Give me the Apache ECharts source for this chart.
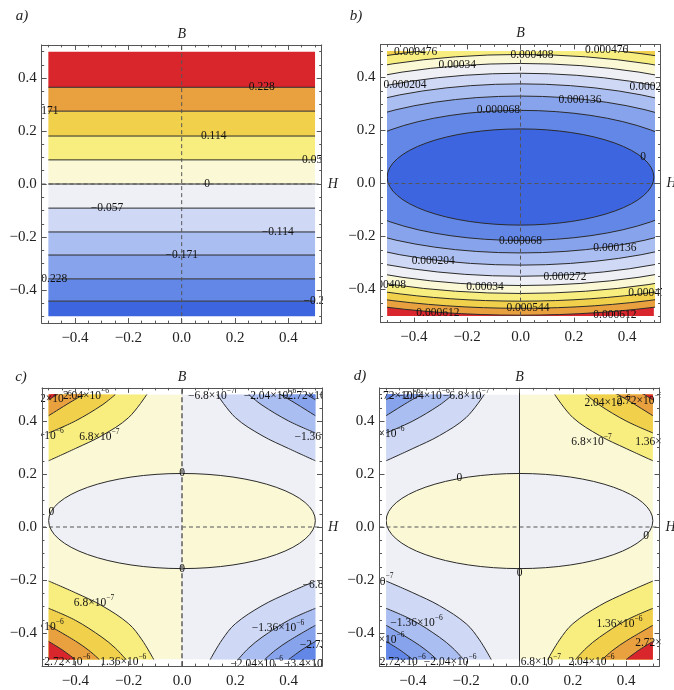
<!DOCTYPE html>
<html>
<head>
<meta charset="utf-8">
<script src="https://cdn.jsdelivr.net/npm/echarts@6/dist/echarts.min.js"></script>
<style>
html,body{margin:0;padding:0;background:#ffffff;}
#chart{width:674px;height:690px;}
</style>
</head>
<body>
<div id="chart"></div>
<script>
// ---------------- data ----------------
const majorTicks = [-0.4, -0.2, 0, 0.2, 0.4];
const minorTicks = [-0.5,-0.45,-0.35,-0.3,-0.25,-0.15,-0.1,-0.05,0.05,0.1,0.15,0.25,0.3,0.35,0.45,0.5];
const panelLetters = ['a)', 'b)', 'c)', 'd)'];
const axisNames = ['H', 'B'];

// contour band colours, lowest band to highest band
const bandColors = ['#3d65df','#6287e6','#87a3ec','#abbef1','#cfd8f5','#eff0f5',
                    '#fbf8d6','#f8ee80','#f1d14c','#e9a03e','#d9262c'];

// panel a : contour lines (B values), all horizontal
const aContourY = [-0.442, -0.358, -0.268, -0.181, -0.091, 0, 0.091, 0.181, 0.275, 0.365];
const aLabels = [
  ['0.228', 0.30, 0.365], ['0.171', -0.51, 0.275], ['0.114', 0.12, 0.181],
  ['0.057', 0.50, 0.091], ['0', 0.095, 0.0], ['−0.057', -0.28, -0.091],
  ['−0.114', 0.36, -0.181], ['−0.171', 0.0, -0.268], ['−0.228', -0.49, -0.358],
  ['−0.285', 0.517, -0.442]
];

// panel b : closed contours around a common centre (levels 0 ... 0.000612)
const bLevels = ['0','0.000068','0.000136','0.000204','0.000272','0.00034','0.000408','0.000476','0.000544','0.000612'];
const bCenterY = 0.024;
const bTopY    = [0.206, 0.276, 0.330, 0.376, 0.416, 0.453, 0.487, 0.519, 0.55, 0.58];
const bBottomY = [-0.157, -0.215, -0.262, -0.308, -0.35, -0.385, -0.415, -0.444, -0.471, -0.497];
const bHalfWidth = [0.5, 0.69, 0.84, 0.96, 1.07, 1.16, 1.25, 1.34, 1.42, 1.5];
const bLabels = [
  ['0.000476', -0.393, 0.497], ['0.000476', 0.323, 0.503], ['0.000408', 0.043, 0.485],
  ['0.00034', -0.237, 0.447], ['0.000204', -0.433, 0.37], ['0.000272', 0.49, 0.365],
  ['0.000136', 0.223, 0.315], ['0.000068', -0.083, 0.277], ['0', 0.46, 0.10],
  ['0.000068', 0.0, -0.217], ['0.000136', 0.354, -0.245], ['0.000204', -0.327, -0.292],
  ['0.000272', 0.167, -0.352], ['0.00034', -0.133, -0.389], ['0.000408', -0.51, -0.383],
  ['0.000476', 0.485, -0.414], ['0.000544', 0.028, -0.471], ['0.000612', -0.31, -0.49],
  ['0.000612', 0.354, -0.496]
];

// panels c and d : zero contour (ellipse + H = 0) and corner contours (|levels| 6.8e-7 ... 2.72e-6)
const ellipseCenterY = 0.024;
const ellipseTopY = 0.202;
const ellipseBottomY = -0.157;
const ellipseHalfWidth = 0.5;
const cornerTL = [
  [[-0.5,0.25],[-0.4,0.296],[-0.3,0.345],[-0.2,0.413],[-0.132,0.5]],
  [[-0.5,0.355],[-0.4,0.40],[-0.3,0.46],[-0.25,0.5]],
  [[-0.5,0.42],[-0.42,0.47],[-0.36,0.505]],
  [[-0.5,0.48],[-0.46,0.505]]
];
const cornerTR = [
  [[0.132,0.5],[0.2,0.413],[0.3,0.345],[0.4,0.296],[0.5,0.25]],
  [[0.25,0.5],[0.3,0.46],[0.4,0.40],[0.5,0.355]],
  [[0.36,0.505],[0.42,0.47],[0.5,0.42]],
  [[0.46,0.505],[0.5,0.48]]
];
const cornerBL = [
  [[-0.5,-0.204],[-0.4,-0.248],[-0.3,-0.297],[-0.2,-0.365],[-0.15,-0.426],[-0.106,-0.5]],
  [[-0.5,-0.307],[-0.4,-0.352],[-0.3,-0.416],[-0.25,-0.457],[-0.21,-0.5]],
  [[-0.5,-0.371],[-0.4,-0.43],[-0.35,-0.465],[-0.31,-0.5]],
  [[-0.5,-0.432],[-0.45,-0.463],[-0.4,-0.5]]
];
const cornerBR = [
  [[0.106,-0.5],[0.15,-0.426],[0.2,-0.365],[0.3,-0.297],[0.4,-0.248],[0.5,-0.204]],
  [[0.21,-0.5],[0.25,-0.457],[0.3,-0.416],[0.4,-0.352],[0.5,-0.307]],
  [[0.31,-0.5],[0.35,-0.465],[0.4,-0.43],[0.5,-0.371]],
  [[0.4,-0.5],[0.45,-0.463],[0.5,-0.432]]
];
// sign of the field to the left of H = 0, outside the ellipse: c positive, d negative
const panelSign = [1, -1];
const cLabels = [
  ['2.72×10^−6', -0.5, 0.49], ['2.04×10^−6', -0.36, 0.5], ['1.36×10^−6', -0.53, 0.35],
  ['6.8×10^−7', -0.31, 0.347], ['0', -0.49, 0.058], ['0', 0, 0.202], ['0', 0, -0.157],
  ['−6.8×10^−7', 0.11, 0.5], ['−2.04×10^−6', 0.33, 0.5], ['−2.72×10^−6', 0.47, 0.5],
  ['−1.36×10^−6', 0.52, 0.347], ['6.8×10^−7', -0.33, -0.28], ['1.36×10^−6', -0.53, -0.372],
  ['2.72×10^−6', -0.43, -0.505], ['1.36×10^−6', -0.22, -0.505], ['−6.8×10^−7', 0.54, -0.215],
  ['−1.36×10^−6', 0.36, -0.376], ['−2.72×10^−6', 0.54, -0.44], ['−2.04×10^−6', 0.28, -0.51],
  ['−3.4×10^−6', 0.47, -0.51]
];
const dLabels = [
  ['−2.72×10^−6', -0.47, 0.5], ['−2.04×10^−6', -0.36, 0.5], ['−6.8×10^−7', -0.2, 0.5],
  ['−1.36×10^−6', -0.53, 0.355], ['0', -0.225, 0.185], ['2.04×10^−6', 0.33, 0.475],
  ['2.72×10^−6', 0.45, 0.48], ['6.8×10^−7', 0.27, 0.325], ['1.36×10^−6', 0.52, 0.325],
  ['0', 0.0, -0.175], ['0', 0.475, -0.035], ['−6.8×10^−7', -0.56, -0.2],
  ['−1.36×10^−6', -0.386, -0.357], ['−2.04×10^−6', -0.53, -0.42], ['−2.72×10^−6', -0.45, -0.505],
  ['−2.04×10^−6', -0.26, -0.505], ['1.36×10^−6', 0.375, -0.36], ['2.72×10^−6', 0.52, -0.433],
  ['6.8×10^−7', 0.08, -0.505], ['2.04×10^−6', 0.27, -0.505]
];

// ---------------- layout / style ----------------
const FONT = '"Liberation Serif","DejaVu Serif",serif';
const LINE = '#2b2b2b';
const UX = 266.7, UY = 265;
const centers = [[181.7, 184], [520.5, 183.5], [182, 527], [519.5, 527]];

const grids = [];
centers.forEach(([cx, cy]) => grids.push({left: cx - 0.525 * UX, top: cy - 0.525 * UY, width: 1.05 * UX, height: 1.05 * UY, containLabel: false, outerBoundsMode: 'none'}));
centers.forEach(([cx, cy]) => grids.push({left: cx - 0.5 * UX, top: cy - 0.5 * UY, width: UX, height: UY, containLabel: false, outerBoundsMode: 'none'}));

const fmt = v => { const r = Math.round(v * 10) / 10; return (r < 0 ? '−' : '') + Math.abs(r).toFixed(1); };

function axisDef(dim, p, pos, major, labels) {
  return {
    gridIndex: p, type: 'value', min: -0.525, max: 0.525, position: pos, z: 10,
    axisLine: {show: major, onZero: false, lineStyle: {color: '#555', width: 1}},
    axisTick: {show: true, inside: true, length: major ? 5 : 2.5, customValues: major ? majorTicks : minorTicks, lineStyle: {color: '#555', width: 1}},
    axisLabel: {show: labels, customValues: majorTicks, formatter: fmt, fontFamily: FONT, fontSize: 15, color: '#222', margin: dim === 'x' ? 7 : 5},
    splitLine: {show: false}, minorTick: {show: false}, splitArea: {show: false}
  };
}
const xAxes = [], yAxes = [];
for (let p = 0; p < 4; p++) {
  xAxes.push(axisDef('x', p, 'bottom', true, true), axisDef('x', p, 'bottom', false, false),
             axisDef('x', p, 'top', true, false), axisDef('x', p, 'top', false, false));
  yAxes.push(axisDef('y', p, 'left', true, true), axisDef('y', p, 'left', false, false),
             axisDef('y', p, 'right', true, false), axisDef('y', p, 'right', false, false));
}
for (let p = 0; p < 4; p++) {
  xAxes.push({gridIndex: 4 + p, type: 'value', min: -0.5, max: 0.5, show: false});
  yAxes.push({gridIndex: 4 + p, type: 'value', min: -0.5, max: 0.5, show: false});
}

const inner = p => ({xAxisIndex: 16 + p, yAxisIndex: 16 + p});
const outer = p => ({xAxisIndex: 4 * p, yAxisIndex: 4 * p});
function custom(p, isInner, data, renderItem, z) {
  return Object.assign({type: 'custom', coordinateSystem: 'cartesian2d', clip: true, silent: true, animation: false, z: z, data: data, renderItem: renderItem}, isInner ? inner(p) : outer(p));
}
function rectFromData(api, x0, y0, x1, y1) {
  const a = api.coord([x0, y1]), b = api.coord([x1, y0]);
  return {x: a[0], y: a[1], width: b[0] - a[0], height: b[1] - a[1]};
}

const series = [];

// ----- panel a -----
const aEdges = [-0.5].concat(aContourY, [0.5]);
const aBands = aEdges.slice(0, -1).map((lo, i) => [0, lo, aEdges[i + 1], i]);
series.push(custom(0, true, aBands, (params, api) => ({
  type: 'rect', shape: rectFromData(api, -0.5, api.value(1), 0.5, api.value(2)),
  style: {fill: bandColors[api.value(3)]}
}), 1));
series.push(custom(0, true, aContourY.map(y => [0, y]), (params, api) => {
  const y = api.value(1); const a = api.coord([-0.5, y]), b = api.coord([0.5, y]);
  return {type: 'line', shape: {x1: a[0], y1: a[1], x2: b[0], y2: b[1]}, style: {stroke: LINE, lineWidth: 1}};
}, 3));

// ----- panel b -----
series.push(custom(1, true, [[0, 0]], (params, api) => ({
  type: 'rect', shape: rectFromData(api, -0.5, -0.5, 0.5, 0.5), style: {fill: bandColors[10]}
}), 1));
const bOrder = bLevels.map((_, k) => [0, 0, k]).reverse();
series.push(custom(1, true, bOrder, (params, api) => {
  const k = api.value(2);
  const c = api.coord([0, bCenterY]);
  const rx = api.size([bHalfWidth[k], 0])[0];
  const ryT = api.size([0, bTopY[k] - bCenterY])[1];
  const ryB = api.size([0, bCenterY - bBottomY[k]])[1];
  const d = 'M' + (c[0] - rx) + ' ' + c[1] + 'A' + rx + ' ' + ryT + ' 0 0 1 ' + (c[0] + rx) + ' ' + c[1] +
            'A' + rx + ' ' + ryB + ' 0 0 1 ' + (c[0] - rx) + ' ' + c[1] + 'Z';
  return {type: 'path', shape: {pathData: d}, style: {fill: bandColors[k], stroke: LINE, lineWidth: 1}};
}, 2));

// ----- panels c, d -----
const colorFor = (sign, level) => sign > 0 ? bandColors[6 + level] : bandColors[5 - level];
[2, 3].forEach(p => {
  const sgn = panelSign[p - 2];
  series.push(custom(p, true, [[0, 0, -1], [0, 0, 1]], (params, api) => {
    const side = api.value(2);
    const s = side < 0 ? sgn : -sgn;
    return {type: 'rect', shape: rectFromData(api, side < 0 ? -0.5 : 0, -0.5, side < 0 ? 0 : 0.5, 0.5), style: {fill: colorFor(s, 0)}};
  }, 1));
  series.push(custom(p, true, [[0, 0, -1], [0, 0, 1]], (params, api) => {
    const side = api.value(2);
    const s = side < 0 ? -sgn : sgn;
    const c = api.coord([0, ellipseCenterY]);
    const rx = api.size([ellipseHalfWidth, 0])[0];
    const ryT = api.size([0, ellipseTopY - ellipseCenterY])[1];
    const ryB = api.size([0, ellipseCenterY - ellipseBottomY])[1];
    const sw = side < 0 ? 0 : 1;
    const ex = side < 0 ? c[0] - rx : c[0] + rx;
    const d = 'M' + c[0] + ' ' + (c[1] - ryT) + 'A' + rx + ' ' + ryT + ' 0 0 ' + sw + ' ' + ex + ' ' + c[1] +
              'A' + rx + ' ' + ryB + ' 0 0 ' + sw + ' ' + c[0] + ' ' + (c[1] + ryB) + 'Z';
    return {type: 'path', shape: {pathData: d}, style: {fill: colorFor(s, 0)}};
  }, 1));
  series.push(custom(p, true, [[0, 0]], (params, api) => {
    const c = api.coord([0, ellipseCenterY]);
    const rx = api.size([ellipseHalfWidth, 0])[0];
    const ryT = api.size([0, ellipseTopY - ellipseCenterY])[1];
    const ryB = api.size([0, ellipseCenterY - ellipseBottomY])[1];
    const d = 'M' + (c[0] - rx) + ' ' + c[1] + 'A' + rx + ' ' + ryT + ' 0 0 1 ' + (c[0] + rx) + ' ' + c[1] +
              'A' + rx + ' ' + ryB + ' 0 0 1 ' + (c[0] - rx) + ' ' + c[1] + 'Z';
    return {type: 'path', shape: {pathData: d}, style: {fill: null, stroke: LINE, lineWidth: 1}};
  }, 3));
  const corners = [[cornerTL, sgn, 'end'], [cornerTR, -sgn, 'end'], [cornerBL, sgn, 'start'], [cornerBR, -sgn, 'start']];
  corners.forEach(([lines, s, origin]) => {
    lines.forEach((pts, j) => {
      series.push(Object.assign({
        type: 'line', data: pts, smooth: 0.35, showSymbol: false, symbol: 'none', silent: true, animation: false, z: 2,
        lineStyle: {color: LINE, width: 1}, areaStyle: {color: colorFor(s, j + 1), opacity: 1, origin: origin}
      }, inner(p)));
    });
  });
});

// ----- dashed axes (H = 0, B = 0) -----
for (let p = 0; p < 4; p++) {
  series.push(Object.assign({type: 'line', data: [[-0.525, 0], [0.525, 0]], showSymbol: false, symbol: 'none', silent: true, animation: false, z: 4,
    lineStyle: {color: '#555', width: 1, type: [4, 3]}}, outer(p)));
  let vStyle = {color: '#555', width: 1, type: [4, 3]};
  if (p === 2) vStyle = {color: '#777', width: 1.8, type: [5, 3]};
  if (p === 3) vStyle = {color: LINE, width: 1, type: 'solid'};
  series.push(Object.assign({type: 'line', data: [[0, -0.525], [0, 0.525]], showSymbol: false, symbol: 'none', silent: true, animation: false, z: 4,
    lineStyle: vStyle}, outer(p)));
}

// ----- contour labels -----
const richStyle = {
  b: {fontSize: 11.5, fontFamily: FONT, fill: '#111', verticalAlign: 'bottom', lineHeight: 15},
  s: {fontSize: 7.5, fontFamily: FONT, fill: '#111', verticalAlign: 'top', lineHeight: 15}
};
function toRich(s) {
  const i = s.indexOf('^');
  if (i < 0) return s;
  return '{b|' + s.slice(0, i) + '}{s|' + s.slice(i + 1) + '}';
}
[aLabels, bLabels, cLabels, dLabels].forEach((labels, p) => {
  series.push(custom(p, false, labels.map((l, i) => [l[1], l[2], i]), (params, api) => {
    const pt = api.coord([api.value(0), api.value(1)]);
    const txt = labels[api.value(2)][0];
    return {type: 'text', x: pt[0], y: pt[1], style: {text: toRich(txt), fontSize: 11.5, fontFamily: FONT, fill: '#111', align: 'center', verticalAlign: 'middle', rich: richStyle}};
  }, 5));
});

// ----- texts: panel letters, axis names -----
const graphics = [];
const letterPos = [[22, 16], [356, 16], [21, 377], [360, 376]];
panelLetters.forEach((t, i) => graphics.push({type: 'text', x: letterPos[i][0], y: letterPos[i][1], z: 100,
  style: {text: t, font: 'italic 15px ' + FONT, fill: '#222', align: 'center', verticalAlign: 'middle'}}));
centers.forEach(([cx, cy], i) => {
  graphics.push({type: 'text', x: cx, y: cy - 0.525 * UY - 11, z: 100,
    style: {text: axisNames[1], font: 'italic 14px ' + FONT, fill: '#222', align: 'center', verticalAlign: 'middle'}});
  graphics.push({type: 'text', x: cx + 0.525 * UX + 11, y: cy, z: 100,
    style: {text: axisNames[0], font: 'italic 14px ' + FONT, fill: '#222', align: 'center', verticalAlign: 'middle'}});
});

const chart = echarts.init(document.getElementById('chart'), null, {renderer: 'canvas', width: 674, height: 690});
chart.setOption({
  animation: false,
  backgroundColor: '#ffffff',
  grid: grids,
  xAxis: xAxes,
  yAxis: yAxes,
  series: series,
  graphic: {elements: graphics}
});
</script>
</body>
</html>
